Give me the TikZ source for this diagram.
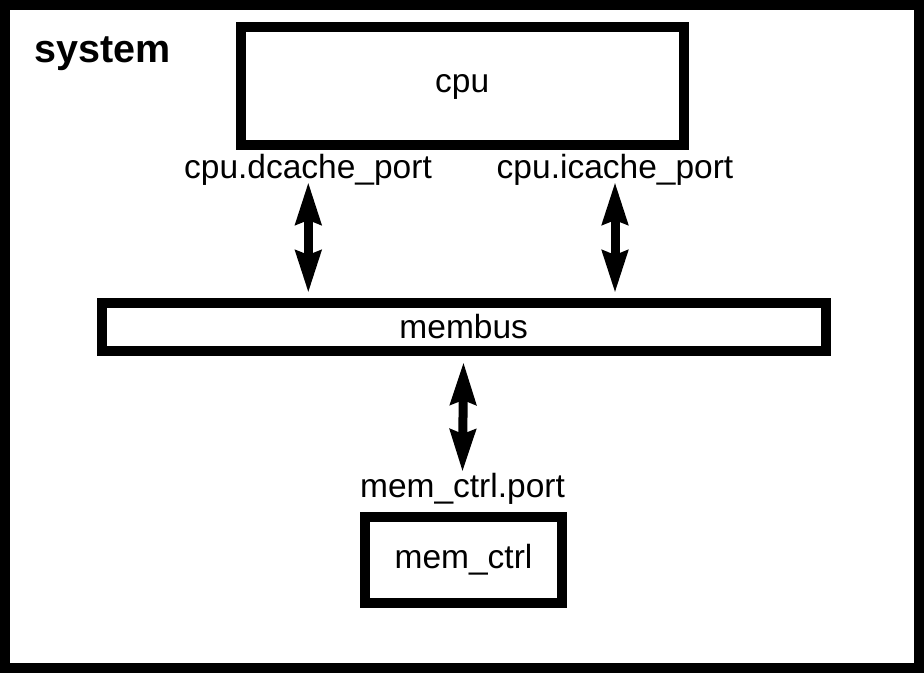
\documentclass[tikz,border=0pt]{standalone}
\usepackage{fontspec}
\setmainfont{Liberation Sans}
\usetikzlibrary{arrows.meta}
\tikzset{
  box/.style={draw=black, line width=10pt, fill=white, inner sep=0pt,
    font=\fontsize{33.5}{40}\selectfont, text depth=0pt},
  portlabel/.style={inner sep=0pt, anchor=base, font=\fontsize{33.5}{40}\selectfont},
  biarrow/.style={line width=9pt, {Stealth[length=42pt,width=25pt,inset=4pt]}-{Stealth[length=42pt,width=25pt,inset=4pt]}}
}
\begin{document}
\begin{tikzpicture}[x=1pt,y=-1pt]
\useasboundingbox (0,0) rectangle (924,673);
\fill[black] (0,0) rectangle (924,673);
\fill[white] (10,10) rectangle (914,663);
\node[inner sep=0pt, anchor=base west, font=\fontsize{39.5}{46}\selectfont\bfseries] (sys) at (34.5,62) {system};
\node[box, minimum width=443.5pt, minimum height=118pt, text height=12pt] (cpu) at (462.25,86) {cpu};
\node[box, minimum width=724pt, minimum height=48pt, text height=22pt] (membus) at (463.7,327) {membus};
\node[box, minimum width=197pt, minimum height=86pt, text height=16pt] (memctrl) at (463.5,560) {mem\_ctrl};
\node[portlabel] (dport) at (308,178) {cpu.dcache\_port};
\node[portlabel] (iport) at (615,178) {cpu.icache\_port};
\node[portlabel] (mport) at (462.5,497) {mem\_ctrl.port};
\coordinate (d1) at ([xshift=0.3pt,yshift=-4pt]dport.base);
\coordinate (i1) at ([yshift=-4pt]iport.base);
\coordinate (m1) at (membus.south -| memctrl.center);
\draw[biarrow, shorten >=5pt] (d1) -- (d1 |- membus.north);
\draw[biarrow, shorten >=5pt] (i1) -- (i1 |- membus.north);
\draw[biarrow] ([yshift=-6pt]m1) -- ([yshift=25pt]mport.base);
\end{tikzpicture}
\end{document}
